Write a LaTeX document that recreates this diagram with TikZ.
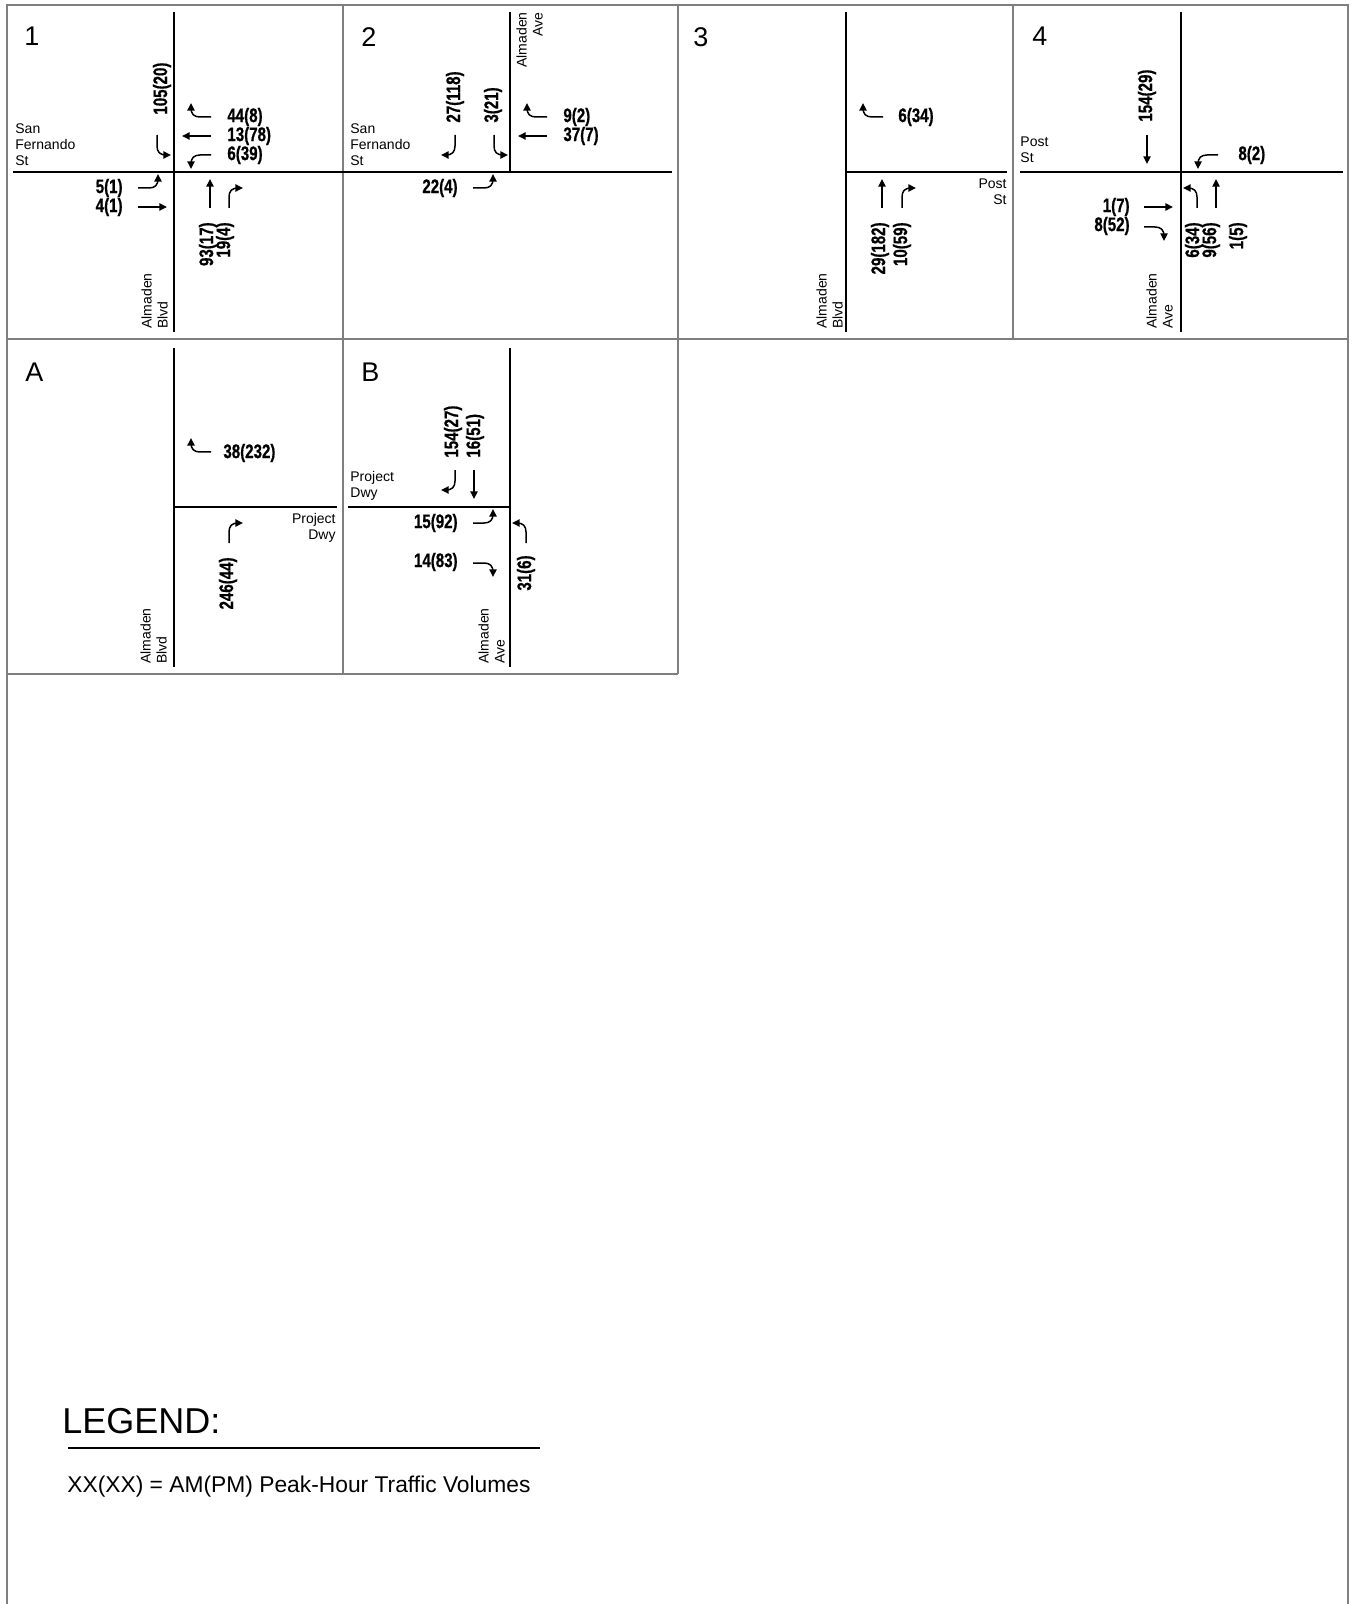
\documentclass[tikz,border=0pt]{standalone}
\usepackage{fontspec}
\setmainfont{Liberation Sans}
\newfontfamily\volfont[FakeStretch=0.77,FakeBold=0.7]{Liberation Sans}
\usetikzlibrary{arrows.meta}
\definecolor{FrameGray}{HTML}{7F7F7F}
\tikzset{
  frame/.style={draw=FrameGray, line width=1pt},
  road/.style={draw=black, line width=1.1pt},
  mv/.style={line width=0.75pt, -{Triangle[length=3.8pt,width=3.6pt]}},
  vol/.style={font=\volfont\bfseries\fontsize{9.8}{9.8}\selectfont, inner sep=0pt},
  street/.style={font=\fontsize{7}{8}\selectfont, inner sep=0pt, align=left},
  num/.style={font=\fontsize{13.5}{14}\selectfont, inner sep=0pt, anchor=north west},
  thru/.pic={\draw[mv] (0,0) -- (29,0);},
  rturn/.pic={\draw[mv] (0,0) -- (11,0) .. controls (17,0) and (20,3) .. (20,9) -- (20,14);},
  lturn/.pic={\draw[mv] (0,0) -- (11,0) .. controls (17,0) and (20,-3) .. (20,-9) -- (20,-14);}
}

\begin{document}
\begin{tikzpicture}[x=0.5pt, y=-0.5pt]
\useasboundingbox (0,0) rectangle (1354,1604);
% panel frames
\draw[frame] (7,1604) -- (7,5) -- (1348,5) -- (1348,1604);
\draw[frame] (7,339) -- (1348,339);
\draw[frame] (7,674) -- (678,674);
\foreach \x in {343,678,1013} \draw[frame] (\x,5) -- (\x,339);
\foreach \x in {343,678} \draw[frame] (\x,339) -- (\x,674);

% 1: San Fernando St / Almaden Blvd
\draw[road] (174,12) -- (174,332);
\draw[road] (13,172) -- (343,172);
\node[num] (n1) at (24,27) {1};
\node[street, anchor=north west] (s1a) at (15,123) {San\\Fernando\\St};
\node[street, rotate=90, anchor=north west] (s1b) at (141,329) {Almaden\\Blvd};
\pic[rotate=180] at (211,117) {rturn};
\pic[rotate=180] at (211,136) {thru};
\pic[rotate=180] at (211,155) {lturn};
\node[vol, anchor=west] (v1wr) at (227,117) {44(8)};
\node[vol, anchor=west] (v1wt) at (227,136) {13(78)};
\node[vol, anchor=west] (v1wl) at (227,155) {6(39)};
\pic[rotate=-90] at (157,135) {lturn};
\node[vol, rotate=90, anchor=west] (v1sl) at (162,115) {105(20)};
\pic at (138,188) {lturn};
\pic at (138,207) {thru};
\node[vol, anchor=east] (v1el) at (123,188) {5(1)};
\node[vol, anchor=east] (v1et) at (123,207) {4(1)};
\pic[rotate=90] at (210,208) {thru};
\pic[rotate=90] at (229,208) {rturn};
\node[vol, rotate=90, anchor=east] (v1nt) at (208,222) {93(17)};
\node[vol, rotate=90, anchor=east] (v1nr) at (225,222) {19(4)};

% 2: San Fernando St / Almaden Ave
\draw[road] (510,12) -- (510,172);
\draw[road] (343,172) -- (672,172);
\node[num] (n2) at (361,27) {2};
\node[street, anchor=north west] (s2a) at (350,123) {San\\Fernando\\St};
\node[street, rotate=90, align=right, anchor=north east] (s2b) at (516,12) {Almaden\\Ave};
\pic[rotate=180] at (547,117) {rturn};
\pic[rotate=180] at (547,136) {thru};
\node[vol, anchor=west] (v2wr) at (563,117) {9(2)};
\node[vol, anchor=west] (v2wt) at (563,136) {37(7)};
\pic[rotate=-90] at (455,135) {rturn};
\pic[rotate=-90] at (494,135) {lturn};
\node[vol, rotate=90, anchor=west] (v2sr) at (455,123) {27(118)};
\node[vol, rotate=90, anchor=west] (v2sl) at (493,123) {3(21)};
\pic at (473,188) {lturn};
\node[vol, anchor=east] (v2el) at (458,188) {22(4)};

% 3: Post St / Almaden Blvd
\draw[road] (846,12) -- (846,332);
\draw[road] (846,172) -- (1007,172);
\node[num] (n3) at (693,27) {3};
\node[street, align=right, anchor=north east] (s3a) at (1007,178) {Post\\St};
\node[street, rotate=90, anchor=north west] (s3b) at (816,329) {Almaden\\Blvd};
\pic[rotate=180] at (883,117) {rturn};
\node[vol, anchor=west] (v3wr) at (898,117) {6(34)};
\pic[rotate=90] at (882,208) {thru};
\pic[rotate=90] at (902,208) {rturn};
\node[vol, rotate=90, anchor=east] (v3nt) at (880,222) {29(182)};
\node[vol, rotate=90, anchor=east] (v3nr) at (902,222) {10(59)};

% 4: Post St / Almaden Ave
\draw[road] (1181,12) -- (1181,332);
\draw[road] (1020,172) -- (1343,172);
\node[num] (n4) at (1032,27) {4};
\node[street, anchor=north west] (s4a) at (1020,136) {Post\\St};
\node[street, rotate=90, anchor=north west] (s4b) at (1146,329) {Almaden\\Ave};
\pic[rotate=-90] at (1147,135) {thru};
\node[vol, rotate=90, anchor=west] (v4st) at (1147,122) {154(29)};
\pic[rotate=180] at (1218,155) {lturn};
\node[vol, anchor=west] (v4wl) at (1238,155) {8(2)};
\pic at (1144,207) {thru};
\pic at (1144,227) {rturn};
\node[vol, anchor=east] (v4et) at (1130,207) {1(7)};
\node[vol, anchor=east] (v4er) at (1130,226) {8(52)};
\pic[rotate=90] at (1197,208) {lturn};
\pic[rotate=90] at (1216,208) {thru};
\node[vol, rotate=90, anchor=east] (v4nl) at (1194,222) {6(34)};
\node[vol, rotate=90, anchor=east] (v4nt) at (1211,222) {9(56)};
\node[vol, rotate=90, anchor=east] (v4nr) at (1238,222) {1(5)};

% A: Project Dwy / Almaden Blvd
\draw[road] (174,348) -- (174,667);
\draw[road] (174,507) -- (337,507);
\node[num] (nA) at (25,363) {A};
\node[street, align=right, anchor=north east] (sAa) at (336,513) {Project\\Dwy};
\node[street, rotate=90, anchor=north west] (sAb) at (140,664) {Almaden\\Blvd};
\pic[rotate=180] at (211,452) {rturn};
\node[vol, anchor=west] (vAwr) at (223,453) {38(232)};
\pic[rotate=90] at (229,543) {rturn};
\node[vol, rotate=90, anchor=east] (vAnr) at (228,557) {246(44)};

% B: Project Dwy / Almaden Ave
\draw[road] (510,348) -- (510,667);
\draw[road] (348,507) -- (510,507);
\node[num] (nB) at (361,363) {B};
\node[street, anchor=north west] (sBa) at (350,471) {Project\\Dwy};
\node[street, rotate=90, anchor=north west] (sBb) at (478,664) {Almaden\\Ave};
\pic[rotate=-90] at (455,470) {rturn};
\pic[rotate=-90] at (474,470) {thru};
\node[vol, rotate=90, anchor=west] (vBsr) at (453,458) {154(27)};
\node[vol, rotate=90, anchor=west] (vBst) at (475,458) {16(51)};
\pic at (473,523) {lturn};
\pic at (473,563) {rturn};
\node[vol, anchor=east] (vBel) at (458,523) {15(92)};
\node[vol, anchor=east] (vBer) at (458,562) {14(83)};
\pic[rotate=90] at (526,543) {lturn};
\node[vol, rotate=90, anchor=east] (vBnl) at (526,555) {31(6)};

% legend
\node[font=\fontsize{18}{20}\selectfont, inner sep=0pt, anchor=base west] (leg) at (62,1433) {LEGEND:};
\draw[line width=1pt] (68,1448) -- (540,1448);
\node[font=\fontsize{11.4}{13}\selectfont, inner sep=0pt, anchor=base west] (legtxt) at (67,1492) {XX(XX) = AM(PM) Peak-Hour Traffic Volumes};
\end{tikzpicture}
\end{document}
